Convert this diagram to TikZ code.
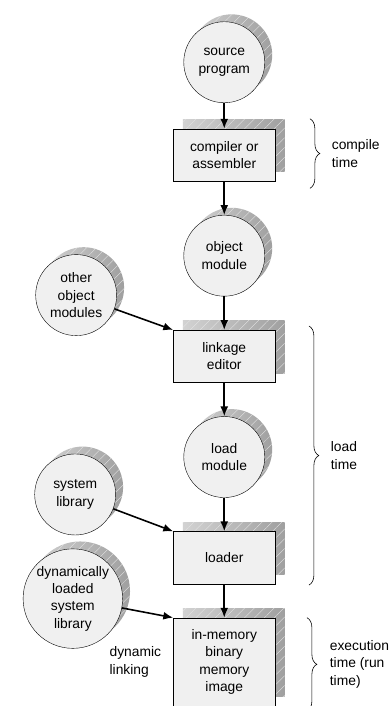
\documentclass[tikz,border=0pt]{standalone}
\usepackage{fontspec}
\setmainfont{Liberation Sans}
\usetikzlibrary{arrows.meta, positioning, shadows, calc, decorations.pathreplacing, patterns.meta}

\begin{document}
\begin{tikzpicture}[
    node distance=34bp,
    font=\fontsize{14bp}{17.5bp}\selectfont,
    shadowfill/.style={general shadow={shadow xshift=#1, shadow yshift=#1, left color=gray!35, right color=gray!75},
        general shadow={shadow xshift=#1, shadow yshift=#1, pattern={Lines[angle=45, distance=7bp, line width=0.35bp]}, pattern color=gray!20}},
    roundnode/.style={circle, draw=black, fill=gray!12, minimum size=82bp, align=center, inner sep=1bp, shadowfill=7.5bp},
    boxnode/.style={rectangle, draw=black, fill=gray!12, minimum width=103bp, minimum height=53bp, align=center, shadowfill=9.5bp},
    flow/.style={-{Latex[length=10bp, width=8bp]}, line width=1.6bp},
    timebrace/.style={decorate, decoration={brace, amplitude=10bp}, line width=0.6bp},
    ]

    \node[roundnode]    (src)                            {source\\program};
    \node[boxnode]      (comp)     [below=26bp of src]   {compiler or\\assembler};
    \node[roundnode]    (objmod)   [below=of comp]       {object\\module};
    \node[boxnode]      (link)     [below=of objmod]     {linkage\\editor};
    \node[roundnode]    (loadmod)  [below=of link]       {load\\module};
    \node[boxnode]      (loader)   [below=of loadmod]    {loader};
    \node[boxnode, minimum height=89bp] (inmem) [below=of loader] {in-memory\\binary\\memory\\image};

    \node[roundnode]    (other)    [left=57bp of link, yshift=62bp]     {other\\object\\modules};
    \node[roundnode]    (syslib)   [left=58bp of loader, yshift=64bp]   {system\\library};
    \node[roundnode, minimum size=98bp] (dynlib) [left=51bp of inmem, yshift=64bp] {dynamically\\loaded\\system\\library};
    \node[inner sep=0, align=left] (dynlink) [left=12bp of inmem] {dynamic\\linking};

    \useasboundingbox ([shift={(-227bp,63bp)}]src.center) rectangle ([shift={(169bp,-643bp)}]src.center);

    \draw[flow] (src) -- (comp);
    \draw[flow] (comp) -- (objmod);
    \draw[flow] (objmod) -- (link);
    \draw[flow] (link) -- (loadmod);
    \draw[flow] (loadmod) -- (loader);
    \draw[flow] (loader) -- (inmem);

    \draw[flow] (other) -- (link.north west);
    \draw[flow] (syslib) -- (loader.north west);
    \draw[flow] (dynlib) -- (inmem.north west);

    % time braces
    \coordinate (ctop) at ($(comp.north east)+(35bp,10bp)$);
    \coordinate (cbot) at ($(comp.south east)+(35bp,-7bp)$);
    \coordinate (ltop) at ($(link.north east)+(34bp,4bp)$);
    \coordinate (lbot) at ($(loader.south east)+(34bp,-1bp)$);
    \coordinate (etop) at ($(inmem.north east)+(32bp,0bp)$);
    \coordinate (ebot) at ($(inmem.south east)+(32bp,-5bp)$);

    \draw[timebrace] (ctop) -- (cbot);
    \draw[timebrace] (ltop) -- (lbot);
    \draw[timebrace] (etop) -- (ebot);

    \node[inner sep=0, align=left, anchor=west] (ctime) at ($(ctop)!0.5!(cbot)+(22bp,0)$) {compile\\time};
    \node[inner sep=0, align=left, anchor=west] (ltime) at ($(ltop)!0.5!(lbot)+(22bp,0)$) {load\\time};
    \node[inner sep=0, align=left, anchor=west] (etime) at ($(etop)!0.5!(ebot)+(23bp,0)$) {execution\\time (run\\time)};

\end{tikzpicture}
\end{document}
